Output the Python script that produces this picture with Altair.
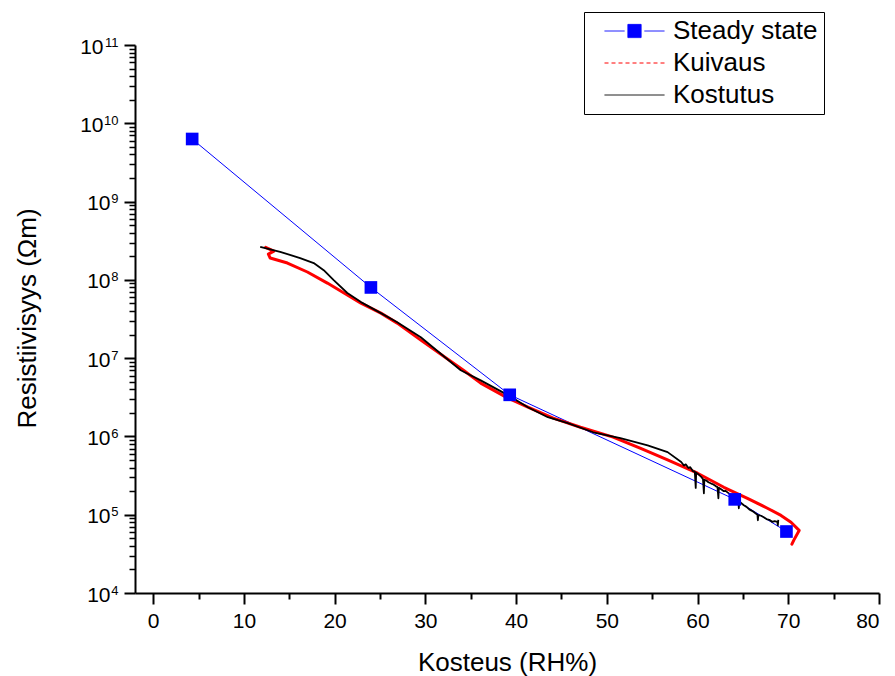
import altair as alt
import pandas as pd

# ---------------- data ----------------
SERIES = ["Steady state", "Kuivaus", "Kostutus"]

STEADY_X = [4.3, 24.0, 39.3, 64.1, 69.8]
STEADY_Y = [6.3e9, 8.0e7, 3.4e6, 1.57e5, 6.1e4]

KUIV_X = [12.4, 13.3, 12.7, 12.9, 14.8, 17.0, 19.2, 21.4, 22.9, 25.1, 26.9, 29.5,
          34.2, 36.1, 39.1, 41.3, 44.1, 47.1, 50.7, 53.8, 56.7, 60.0, 62.9, 65.5,
          67.7, 69.2, 70.3, 71.2, 70.6, 70.4]
KUIV_Y = [2.6e8, 2.33e8, 2.13e8, 1.9e8, 1.64e8, 1.26e8, 9.1e7, 6.4e7, 5.05e7, 3.76e7, 2.8e7, 1.7e7,
          7.0e6, 4.8e6, 3.08e6, 2.36e6, 1.71e6, 1.31e6, 9.8e5, 7.0e5, 5.0e5, 3.39e5, 2.24e5, 1.62e5,
          1.21e5, 9.8e4, 8.0e4, 6.3e4, 4.7e4, 4.2e4]

KOST_X = [11.8, 14.0, 16.2, 17.7, 18.8, 19.9, 21.4, 22.9, 25.1, 26.9, 29.5, 33.9,
          36.1, 39.1, 41.3, 43.5, 45.7, 48.5, 51.5, 54.5, 56.7, 58.2, 58.5, 58.7,
          59.0, 59.2, 59.5, 59.7, 59.8, 59.85, 60.0, 60.2, 60.4, 60.6, 60.7, 60.75,
          61.0, 61.2, 61.5, 61.7, 62.0, 62.2, 62.3, 62.35, 62.6, 62.9, 63.1, 63.3,
          63.6, 63.9, 64.2, 64.5, 64.55, 64.6, 64.9, 65.1, 65.4, 65.7, 66.0, 66.2,
          66.6, 66.65, 66.7, 67.0, 67.3, 67.6, 67.9, 68.25, 68.5, 68.8, 68.85, 68.9]
KOST_Y = [2.64e8, 2.28e8, 1.9e8, 1.64e8, 1.33e8, 9.9e7, 6.8e7, 5.2e7, 3.76e7, 2.88e7, 1.85e7, 7.0e6,
          5.2e6, 3.37e6, 2.36e6, 1.76e6, 1.48e6, 1.13e6, 9.5e5, 7.7e5, 6.3e5, 4.72e5, 4.25e5, 4.4e5,
          3.95e5, 4.05e5, 3.6e5, 3.55e5, 2.2e5, 3.45e5, 3.35e5, 3.2e5, 3.05e5, 2.85e5, 1.88e5, 2.8e5,
          2.72e5, 2.6e5, 2.5e5, 2.45e5, 2.32e5, 2.25e5, 1.62e5, 2.2e5, 2.12e5, 2.0e5, 2.02e5, 1.93e5,
          1.82e5, 1.72e5, 1.6e5, 1.52e5, 1.21e5, 1.48e5, 1.38e5, 1.32e5, 1.26e5, 1.17e5, 1.12e5, 1.08e5,
          1.0e5, 8.5e4, 9.9e4, 9.7e4, 9.3e4, 8.8e4, 8.6e4, 8.1e4, 8.3e4, 8.1e4, 7.3e4, 8.6e4]

X_MAJOR = [0, 10, 20, 30, 40, 50, 60, 70, 80]
X_MINOR = [5, 15, 25, 35, 45, 55, 65, 75]
Y_MAJOR = [10**4, 10**5, 10**6, 10**7, 10**8, 10**9, 10**10, 10**11]
Y_EXPONENTS = ["4", "5", "6", "7", "8", "9", "10", "11"]
Y_TWO_DIGIT = [10**10, 10**11]
Y_MINOR = [m * 10**d for d in range(4, 11) for m in range(2, 10)]

FONT = "Liberation Sans"

steady_df = pd.DataFrame({"x": STEADY_X, "y": STEADY_Y})
kuiv_df = pd.DataFrame({"x": KUIV_X, "y": KUIV_Y, "i": list(range(len(KUIV_X)))})
kost_df = pd.DataFrame({"x": KOST_X, "y": KOST_Y, "i": list(range(len(KOST_X)))})
legend_df = pd.DataFrame({"series": SERIES})

xs = alt.Scale(domain=[-2, 80], nice=False, zero=False)
ys = alt.Scale(type="log", domain=[1e4, 1e11], nice=False)

exp_expr = " : ".join(
    f"datum.value == {v} ? '{e}'" for v, e in zip(Y_MAJOR, Y_EXPONENTS)
) + " : ''"
ten_single_expr = " || ".join(f"datum.value == {v}" for v in Y_TWO_DIGIT) + " ? '' : '10'"

common_axis = dict(
    grid=False, domainColor="black", tickColor="black", labelColor="black",
    titleColor="black", labelFont=FONT, titleFont=FONT,
)

x_main = alt.Axis(
    orient="bottom", values=X_MAJOR, tickSize=11, tickWidth=2, domainWidth=2,
    labelFontSize=21, labelPadding=6, title="Kosteus (RH%)", titleFontSize=26,
    titleFontWeight="normal", titleY=69, titleX=372, titleBaseline="middle",
    titleAlign="center", **common_axis,
)
y_main = alt.Axis(
    orient="left", values=Y_MAJOR, tickSize=11, tickWidth=2, domainWidth=2,
    labelFontSize=21, labelPadding=14, labelExpr=ten_single_expr, labelAlign="right",
    labelBaseline="middle", labelOffset=2,
    title="Resistiivisyys (Ωm)", titleFontSize=26, titleFontWeight="normal",
    titleAngle=270, titleX=-108, titleY=273, titleBaseline="middle",
    titleAlign="center", **common_axis,
)
y_ten_two = alt.Axis(
    orient="left", values=Y_TWO_DIGIT, ticks=False, tickSize=0, domain=False,
    labelExpr="'10'", labelFontSize=21, labelAlign="right", labelBaseline="middle",
    labelPadding=32, labelOffset=2, labelFont=FONT, labelColor="black",
    title=None, grid=False,
)
y_exp = alt.Axis(
    orient="left", values=Y_MAJOR, ticks=False, tickSize=0, domain=False,
    labelExpr=exp_expr, labelFontSize=13, labelAlign="right", labelBaseline="middle",
    labelPadding=17, labelOffset=-3, labelFont=FONT, labelColor="black",
    title=None, grid=False,
)
x_minor = alt.Axis(
    orient="bottom", values=X_MINOR, tickSize=6, tickWidth=2, domain=False,
    labels=False, title=None, grid=False, tickColor="black",
)
y_minor = alt.Axis(
    orient="left", values=Y_MINOR, tickSize=6, tickWidth=1.5, domain=False,
    labels=False, title=None, grid=False, tickColor="black",
)

base_steady = alt.Chart(steady_df)

steady_line = base_steady.mark_line(color="#0000ff", strokeWidth=1).encode(
    x=alt.X("x:Q", scale=xs, axis=x_main),
    y=alt.Y("y:Q", scale=ys, axis=y_main),
)

minor_layer = base_steady.mark_point(opacity=0).encode(
    x=alt.X("x:Q", scale=xs, axis=x_minor),
    y=alt.Y("y:Q", scale=ys, axis=y_minor),
)

kuiv_line = alt.Chart(kuiv_df).mark_line(
    color="#ff0000", strokeWidth=3, strokeJoin="round", strokeCap="round"
).encode(
    x=alt.X("x:Q", scale=xs, axis=None),
    y=alt.Y("y:Q", scale=ys, axis=y_ten_two),
    order="i:Q",
)

kost_line = alt.Chart(kost_df).mark_line(
    color="#000000", strokeWidth=1.8, strokeJoin="round"
).encode(
    x=alt.X("x:Q", scale=xs, axis=None),
    y=alt.Y("y:Q", scale=ys, axis=y_exp),
    order="i:Q",
)

steady_pts = base_steady.mark_square(size=160, color="#0000ff", opacity=1).encode(
    x=alt.X("x:Q", scale=xs, axis=None),
    y=alt.Y("y:Q", scale=ys, axis=None),
)

SYM_STEADY = "M-1,0H-0.33M0.33,0H1M-0.22,-0.22H0.22V0.22H-0.22Z"
SYM_LINE = "M-1,0H1"

leg = alt.Legend(orient="none", legendX=449, legendY=-33, title=None)

legend_layer = alt.Chart(legend_df).mark_point(opacity=0).encode(
    stroke=alt.Stroke("series:N", scale=alt.Scale(domain=SERIES, range=["#0000ff", "#ff0000", "#000000"]), legend=leg),
    fill=alt.Fill("series:N", scale=alt.Scale(domain=SERIES, range=["#0000ff", "transparent", "transparent"]), legend=leg),
    shape=alt.Shape("series:N", scale=alt.Scale(domain=SERIES, range=[SYM_STEADY, SYM_LINE, SYM_LINE]), legend=leg),
    strokeDash=alt.StrokeDash("series:N", scale=alt.Scale(domain=SERIES, range=[[1, 0], [4, 3], [1, 0]]), legend=leg),
)

chart = alt.layer(
    steady_line, minor_layer, kuiv_line, kost_line, steady_pts, legend_layer
).resolve_axis(x="independent", y="independent").properties(
    width=744, height=548,
    padding={"left": 135, "top": 45, "right": 16, "bottom": 83},
    autosize=alt.AutoSizeParams(type="none"),
).configure_view(stroke=None).configure_legend(
    symbolSize=3600, clipHeight=26, rowPadding=6, padding=6,
    strokeColor="black", fillColor="white", labelFont=FONT, labelFontSize=26,
    labelColor="black", symbolOpacity=1, symbolStrokeWidth=1, labelOffset=8,
    symbolOffset=14,
)

chart.save("out.html", embed_options={"renderer": "svg", "actions": False})
